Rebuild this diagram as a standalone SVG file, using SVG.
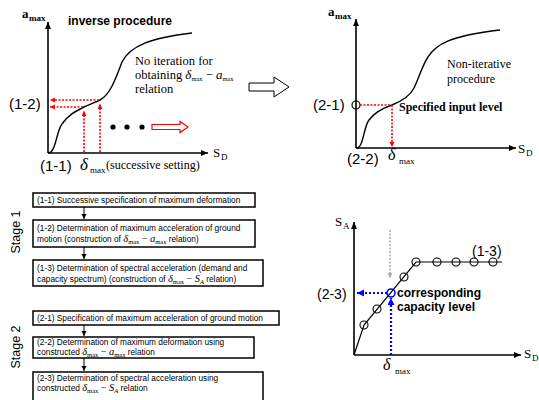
<svg xmlns="http://www.w3.org/2000/svg" width="539" height="400" viewBox="0 0 539 400">
<style>
.ln{fill:none;stroke:#000;stroke-width:1.4}
.ax{fill:none;stroke:#000;stroke-width:1.6;marker-end:url(#ah)}
.box{fill:#fff;stroke:#000;stroke-width:1.5}
.fa{fill:none;stroke:#000;stroke-width:1;marker-end:url(#fh)}
.bx{font-family:"Liberation Sans",Arial,sans-serif;font-size:8.3px;fill:#000}
.mi{font-family:"Liberation Serif",serif;font-style:italic;font-size:10.5px}
.ms{font-family:"Liberation Serif",serif;font-size:6.5px}
.mo{font-family:"Liberation Serif",serif;font-size:10px}
.lab{font-family:"Liberation Sans",Arial,sans-serif;font-size:15px;fill:#000}
.ser{font-family:"Liberation Serif",serif;font-size:12.5px;fill:#000}
.axl{font-family:"Liberation Serif",serif;font-size:13px;fill:#000}
.axs{font-family:"Liberation Serif",serif;font-size:9px;fill:#000}
.bs{font-family:"Liberation Sans",Arial,sans-serif;font-size:12px;font-weight:bold;fill:#000}
.stg{font-family:"Liberation Sans",Arial,sans-serif;font-size:12.5px;fill:#000}
.rd{fill:none;stroke:#f00;stroke-width:1.6;stroke-dasharray:2 1.5}
.bl{fill:none;stroke:#00f;stroke-width:2.2;stroke-dasharray:2 2}
.gr{fill:none;stroke:#aaa;stroke-width:1.5;stroke-dasharray:2 1.5}
.pt{fill:none;stroke:#000;stroke-width:1.2}
</style>
<defs>
<marker id="ah" markerUnits="userSpaceOnUse" markerWidth="8" markerHeight="7" refX="7" refY="3" orient="auto"><path d="M0,0 L7,3 L0,6 z" fill="#000"/></marker>
<marker id="fh" markerUnits="userSpaceOnUse" markerWidth="6" markerHeight="6" refX="5" refY="2.5" orient="auto"><path d="M0,0 L5,2.5 L0,5 z" fill="#000"/></marker>
<marker id="rh" markerUnits="userSpaceOnUse" markerWidth="6" markerHeight="6" refX="5" refY="2.5" orient="auto"><path d="M0,0 L5,2.5 L0,5 z" fill="#f00"/></marker>
<marker id="bh" markerUnits="userSpaceOnUse" markerWidth="8" markerHeight="8" refX="7" refY="3.5" orient="auto"><path d="M0,0 L7,3.5 L0,7 z" fill="#00f"/></marker>
<marker id="gh" markerUnits="userSpaceOnUse" markerWidth="6" markerHeight="6" refX="5" refY="2.5" orient="auto"><path d="M0,0 L5,2.5 L0,5 z" fill="#aaa"/></marker>
</defs>

<!-- Top-left plot -->
<g id="plot-inverse">
<line class="ax" x1="48" y1="153" x2="48" y2="22"/>
<line class="ax" x1="48" y1="153" x2="208" y2="153"/>
<path class="ln" d="M48,153 C56,153 56,132 62,124 C68,115 76,111 84,107 C90,104 96,102 100,100 C110,95 116,78 122,62 C130,46 150,38 192,33"/>
<text x="22" y="18" class="axl" font-weight="bold">a</text><text x="29" y="21" class="axs" font-weight="bold">max</text>
<text x="213" y="157" class="axl">S</text><text x="221" y="160" class="axs">D</text>
<text x="68" y="25" class="bs">inverse procedure</text>
<text x="135" y="65" class="ser">No iteration for</text>
<text x="135" y="79" class="ser">obtaining <tspan class="mi" style="font-size:13px">δ</tspan><tspan class="ms" dy="1.5">max</tspan><tspan dy="-1.5"> − </tspan><tspan class="mi" style="font-size:13px">a</tspan><tspan class="ms" dy="1.5">max</tspan></text>
<text x="135" y="93" class="ser">relation</text>
<text x="9" y="109" class="lab">(1-2)</text>
<text x="40" y="171" class="lab">(1-1)</text>
<text x="80" y="170" class="mi" style="font-size:17px">δ</text><text x="90" y="173" class="axs">max</text>
<text x="106" y="169" class="ser" style="font-size:12px">(successive setting)</text>
<path class="rd" d="M100,152 V104" marker-end="url(#rh)"/>
<path class="rd" d="M84,152 V111" marker-end="url(#rh)"/>
<path class="rd" d="M99,100 H50" marker-end="url(#rh)"/>
<path class="rd" d="M83,107 H50" marker-end="url(#rh)"/>
<circle cx="113" cy="127" r="2.6" fill="#000"/>
<circle cx="127" cy="127" r="2.6" fill="#000"/>
<circle cx="142" cy="127" r="2.6" fill="#000"/>
<path d="M152,124.5 H180 V121.5 L188,127 L180,132.5 V129.5 H152 z" fill="#fff" stroke="#f00" stroke-width="1.2"/>
</g>

<!-- Transition arrow -->
<g id="arrow-transition">
<path d="M249,83 H274 V77 L289,87 L274,97 V91 H249 z" fill="#fff" stroke="#000" stroke-width="1"/>
</g>

<!-- Top-right plot -->
<g id="plot-noniterative">
<line class="ax" x1="356" y1="148" x2="356" y2="19"/>
<line class="ax" x1="356" y1="148" x2="516" y2="148"/>
<path class="ln" d="M356,148 C364,148 363,128 369,120 C375,112 383,108 392,105 C402,101 410,96 414,88 C419,78 422,66 428,57 C436,44 450,36 500,30"/>
<text x="328" y="16" class="axl" font-weight="bold">a</text><text x="335" y="19" class="axs" font-weight="bold">max</text>
<text x="518" y="153" class="axl">S</text><text x="526" y="156" class="axs">D</text>
<text x="447" y="68" class="ser" style="font-size:12px">Non-iterative</text>
<text x="447" y="83" class="ser" style="font-size:12px">procedure</text>
<circle cx="356" cy="105" r="4" fill="none" stroke="#000" stroke-width="1.2"/>
<path class="rd" d="M360,105 H392"/>
<path class="rd" d="M392,105 V147" marker-end="url(#rh)"/>
<text x="313" y="110" class="lab">(2-1)</text>
<text x="399" y="111" class="ser" style="font-size:12px;font-weight:bold">Specified input level</text>
<text x="347" y="164" class="lab">(2-2)</text>
<text x="388" y="160" class="mi" style="font-size:16px">δ</text><text x="399" y="164" class="axs">max</text>
</g>

<!-- Stage labels -->
<text class="stg" transform="translate(20,232) rotate(-90)" text-anchor="middle">Stage 1</text>
<text class="stg" transform="translate(20,347) rotate(-90)" text-anchor="middle">Stage 2</text>

<!-- Flowchart nodes -->
<g id="n11"><rect class="box" x="33" y="193" width="222" height="14"/>
<text x="37" y="203" class="bx">(1-1) Successive specification of maximum deformation</text></g>
<g id="n12"><rect class="box" x="33" y="220" width="222" height="27"/>
<text x="37" y="231" class="bx">(1-2) Determination of maximum acceleration of ground</text>
<text x="37" y="242" class="bx">motion (construction of <tspan class="mi">δ</tspan><tspan class="ms" dy="2">max</tspan><tspan class="mo" dy="-2"> − </tspan><tspan class="mi">a</tspan><tspan class="ms" dy="2">max</tspan><tspan dy="-2">  relation)</tspan></text></g>
<g id="n13"><rect class="box" x="33" y="260" width="230" height="26"/>
<text x="37" y="271" class="bx">(1-3) Determination of spectral acceleration (demand and</text>
<text x="37" y="282" class="bx">capacity spectrum) (construction of  <tspan class="mi">δ</tspan><tspan class="ms" dy="2">max</tspan><tspan class="mo" dy="-2"> − </tspan><tspan class="mi">S</tspan><tspan class="ms" font-style="italic" dy="2">A</tspan><tspan dy="-2">  relation)</tspan></text></g>
<g id="n21"><rect class="box" x="33" y="311" width="246" height="14"/>
<text x="37" y="321" class="bx">(2-1) Specification of maximum acceleration of ground motion</text></g>
<g id="n22"><rect class="box" x="33" y="337" width="221" height="21"/>
<text x="37" y="345" class="bx">(2-2) Determination of maximum deformation using</text>
<text x="37" y="355" class="bx">constructed  <tspan class="mi">δ</tspan><tspan class="ms" dy="2">max</tspan><tspan class="mo" dy="-2"> − </tspan><tspan class="mi">a</tspan><tspan class="ms" dy="2">max</tspan><tspan dy="-2"> relation</tspan></text></g>
<g id="n23"><rect class="box" x="33" y="372" width="230" height="32"/>
<text x="37" y="381" class="bx">(2-3) Determination of spectral acceleration using</text>
<text x="37" y="391" class="bx">constructed  <tspan class="mi">δ</tspan><tspan class="ms" dy="2">max</tspan><tspan class="mo" dy="-2"> − </tspan><tspan class="mi">S</tspan><tspan class="ms" font-style="italic" dy="2">A</tspan><tspan dy="-2">  relation</tspan></text></g>

<g id="connectors">
<line class="fa" x1="84" y1="207" x2="84" y2="219"/>
<line class="fa" x1="84" y1="247" x2="84" y2="259"/>
<line class="fa" x1="84" y1="325" x2="84" y2="336"/>
<line class="fa" x1="84" y1="358" x2="84" y2="371"/>
</g>

<!-- Bottom-right plot -->
<g id="plot-capacity">
<line class="ax" x1="354" y1="355" x2="354" y2="222"/>
<line class="ax" x1="354" y1="355" x2="521" y2="355"/>
<text x="335" y="226" class="axl">S</text><text x="343" y="229" class="axs">A</text>
<text x="524" y="358" class="axl">S</text><text x="532" y="361" class="axs">D</text>
<polyline class="pt" points="354,355 364,325 416,262 502,262"/>
<g fill="none" stroke="#000" stroke-width="1.1">
<circle cx="364" cy="325" r="4"/><circle cx="377" cy="309" r="4"/>
<circle cx="404" cy="277" r="4"/><circle cx="416" cy="262" r="4"/>
<circle cx="437" cy="262" r="4"/><circle cx="456" cy="262" r="4"/>
<circle cx="474" cy="262" r="4"/><circle cx="493" cy="262" r="4"/>
</g>
<path class="gr" d="M390,230 V278" marker-end="url(#gh)"/>
<path class="bl" d="M387,293 H357" marker-end="url(#bh)"/>
<path class="bl" d="M391,355 V298" marker-end="url(#bh)"/>
<circle cx="391" cy="293" r="4" fill="none" stroke="#00f" stroke-width="1.6"/>
<text x="317" y="299" class="lab" style="font-size:14px">(2-3)</text>
<text x="472" y="256" class="lab" style="font-size:14px">(1-3)</text>
<text x="397" y="297" class="bs">corresponding</text>
<text x="397" y="311" class="bs">capacity level</text>
<text x="383" y="370" class="mi" style="font-size:16px">δ</text><text x="395" y="374" class="axs">max</text>
</g>
</svg>
